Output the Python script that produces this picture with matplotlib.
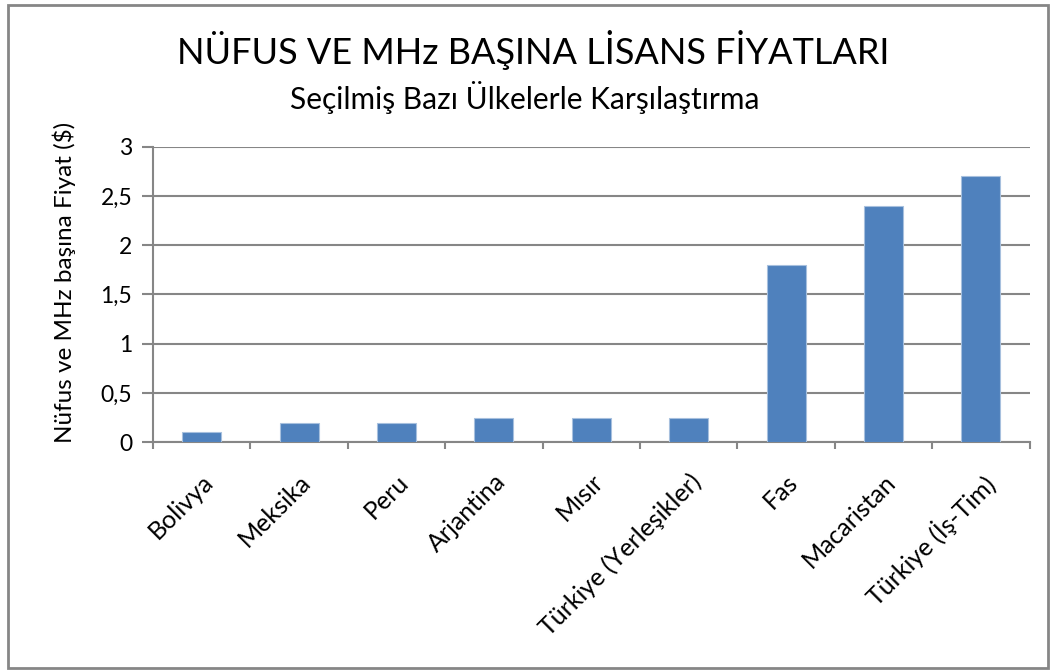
import matplotlib
matplotlib.use("Agg")
from matplotlib import pyplot as plt
from matplotlib.patches import Rectangle

plt.rcParams['font.family'] = ['Lato', 'DejaVu Sans']

ulkeler = ['Bolivya', 'Meksika', 'Peru', 'Arjantina', 'Mısır',
           'Türkiye (Yerleşikler)', 'Fas', 'Macaristan', 'Türkiye (İş-Tim)']
fiyatlar = [0.1, 0.2, 0.2, 0.25, 0.25, 0.25, 1.8, 2.4, 2.7]
y_ticks = [0, 0.5, 1, 1.5, 2, 2.5, 3]
y_labels = ['0', '0,5', '1', '1,5', '2', '2,5', '3']

fig = plt.figure(figsize=(10.55, 6.70), dpi=100)
ax = fig.add_axes([0.145, 0.34, 0.831, 0.441])

x = range(len(ulkeler))
ax.bar(x, fiyatlar, width=0.40, color='#4F81BD', edgecolor='#A7C0DE', linewidth=0.8, zorder=3)

ax.set_xlim(-0.5, len(ulkeler) - 0.5)
ax.set_ylim(0, 3)
ax.set_yticks(y_ticks)
ax.set_yticklabels(y_labels, fontsize=16.5)
ax.yaxis.grid(True, color='#868686', linewidth=1.5, zorder=0)

ax.set_xticks([i + 0.5 for i in range(-1, len(ulkeler))])
ax.set_xticklabels([])
ax.set_xticks(list(x), minor=True)
ax.set_xticklabels(ulkeler, minor=True, rotation=45, ha='right', va='top',
                   rotation_mode='anchor', fontsize=18)
ax.tick_params(axis='x', which='minor', length=0, pad=20)
ax.tick_params(axis='x', which='major', length=5, color='#868686', width=1.5)
ax.tick_params(axis='y', length=8, color='#868686', width=1.5, pad=7)

for s in ['top', 'right']:
    ax.spines[s].set_visible(False)
for s in ['left', 'bottom']:
    ax.spines[s].set_color('#868686')
    ax.spines[s].set_linewidth(1.5)

ax.set_ylabel('Nüfus ve MHz başına Fiyat ($)', fontsize=17.5)
ax.yaxis.set_label_coords(-0.088, 0.54)

fig.text(0.505, 0.925, 'NÜFUS VE MHz BAŞINA LİSANS FİYATLARI', ha='center', va='center', fontsize=26)
fig.text(0.497, 0.855, 'Seçilmiş Bazı Ülkelerle Karşılaştırma', ha='center', va='center', fontsize=21.5)

fig.patches.append(Rectangle((0.008, 0.003), 0.985, 0.99, transform=fig.transFigure,
                             fill=False, edgecolor='#868686', linewidth=2))

fig.savefig('out.png', dpi=100)
